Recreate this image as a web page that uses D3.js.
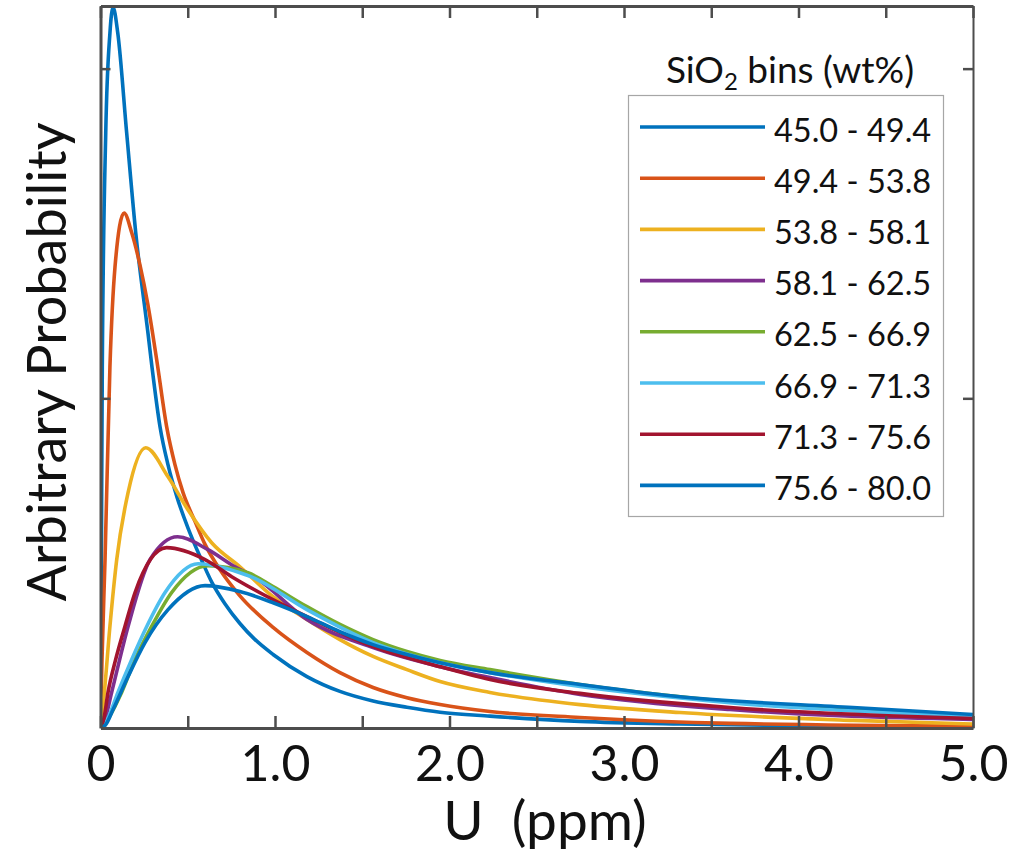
<!DOCTYPE html>
<html>
<head>
<meta charset="utf-8">
<script src="https://cdn.jsdelivr.net/npm/d3@7"></script>
<style>
  body { margin: 0; background: #fff; }
  text { font-family: Lato, "Open Sans", sans-serif; fill: #111; }
</style>
</head>
<body>
<svg id="viz" width="1036" height="855"></svg>
<script>
const svg = d3.select("#viz");
const width = +svg.attr("width");
const height = +svg.attr("height");
const margin = { top: 6, right: 63, bottom: 127, left: 100.5 };

// SiO2 bins and MATLAB default line colours
const bins = ["45.0 - 49.4", "49.4 - 53.8", "53.8 - 58.1", "58.1 - 62.5",
              "62.5 - 66.9", "66.9 - 71.3", "71.3 - 75.6", "75.6 - 80.0"];
const colors = ["#0072BD", "#D95319", "#EDB120", "#7E2F8E",
                "#77AC30", "#4DBEEE", "#A2142F", "#0072BD"];

// curves: [U ppm, arbitrary probability]
const s45 = [[0,0],[0.005,0.5],[0.0103,1.095],[0.030,1.805],[0.054,2.108],[0.072,2.186],[0.099,2.108],
  [0.150,1.805],[0.202,1.502],[0.272,1.198],[0.295,1.095],[0.341,0.914],[0.387,0.798],[0.438,0.701],
  [0.501,0.607],[0.570,0.520],[0.639,0.441],[0.713,0.377],[0.799,0.317],[0.880,0.271],[0.989,0.223],
  [1.183,0.156],[1.372,0.111],[1.562,0.082],[1.756,0.063],[1.946,0.048],[2.232,0.036],[2.748,0.020],
  [3.321,0.012],[4.0,0.007],[5.0,0.004]];
const s49 = [[0,0],[0.0086,0.208],[0.026,0.511],[0.054,1.095],[0.083,1.398],[0.135,1.562],[0.179,1.502],
  [0.226,1.405],[0.272,1.283],[0.322,1.117],[0.379,0.914],[0.427,0.798],[0.473,0.714],[0.542,0.626],
  [0.599,0.557],[0.685,0.480],[0.799,0.401],[0.989,0.305],[1.183,0.229],[1.372,0.168],[1.562,0.123],
  [1.756,0.092],[1.946,0.071],[2.232,0.050],[2.748,0.032],[3.607,0.014],[5.0,0.006]];
const s54 = [[0,0],[0.022,0.108],[0.054,0.308],[0.093,0.511],[0.158,0.714],[0.259,0.850],[0.387,0.762],
  [0.501,0.662],[0.637,0.562],[0.799,0.489],[0.989,0.398],[1.183,0.329],[1.372,0.268],[1.562,0.217],
  [1.756,0.177],[1.946,0.141],[2.232,0.108],[2.748,0.071],[3.321,0.047],[4.312,0.023],[5.0,0.012]];
const s58 = [[0,0],[0.025,0.025],[0.064,0.108],[0.158,0.308],[0.284,0.511],[0.442,0.580],[0.616,0.541],
  [0.771,0.489],[0.880,0.459],[1.183,0.329],[1.562,0.244],[1.946,0.186],[2.232,0.153],[2.748,0.102],
  [3.607,0.056],[5.0,0.026]];
const s62 = [[0,0],[0.02,0.005],[0.043,0.026],[0.121,0.108],[0.198,0.208],[0.293,0.308],[0.408,0.411],
  [0.616,0.492],[0.845,0.471],[0.989,0.429],[1.183,0.368],[1.372,0.314],[1.562,0.268],[1.756,0.232],
  [1.946,0.205],[2.232,0.177],[2.748,0.132],[3.607,0.080],[5.0,0.038]];
const s67 = [[0,0],[0.02,0.006],[0.043,0.03],[0.100,0.108],[0.179,0.208],[0.265,0.308],[0.370,0.411],
  [0.559,0.498],[0.799,0.471],[0.862,0.459],[1.183,0.359],[1.562,0.259],[1.946,0.198],[2.232,0.168],
  [2.748,0.126],[3.607,0.077],[5.0,0.035]];
const s71 = [[0,0],[0.02,0.03],[0.043,0.108],[0.087,0.208],[0.140,0.308],[0.198,0.411],[0.379,0.547],
  [0.599,0.511],[0.752,0.459],[0.880,0.420],[1.183,0.338],[1.562,0.247],[1.946,0.186],[2.232,0.147],
  [2.748,0.105],[3.607,0.062],[5.0,0.029]];
const s76 = [[0,0],[0.03,0.01],[0.072,0.056],[0.158,0.156],[0.255,0.259],[0.387,0.359],[0.599,0.432],
  [0.799,0.414],[0.989,0.380],[1.183,0.338],[1.372,0.292],[1.562,0.253],[1.756,0.223],[1.946,0.198],
  [2.232,0.168],[2.748,0.132],[3.321,0.095],[4.312,0.062],[5.0,0.041]];
const series = [s45, s49, s54, s58, s62, s67, s71, s76];

const xTicks = [0, 0.5, 1, 1.5, 2, 2.5, 3, 3.5, 4, 4.5, 5];
const xTickLabels = { 0: "0", 1: "1.0", 2: "2.0", 3: "3.0", 4: "4.0", 5: "5.0" };
const yTicks = [1, 2];

const x = d3.scaleLinear().domain([0, 5]).range([margin.left, width - margin.right]);
const y = d3.scaleLinear().domain([0, 2.19]).range([height - margin.bottom, margin.top]);

const x0 = x.range()[0], x1 = x.range()[1];
const y0 = y.range()[0], y1 = y.range()[1];

svg.append("defs").append("clipPath").attr("id", "plot")
  .append("rect").attr("x", x0).attr("y", y1 - 2).attr("width", x1 - x0 + 4).attr("height", y0 - y1 + 2);

// curves
const line = d3.line().x(d => x(d[0])).y(d => y(d[1])).curve(d3.curveMonotoneX);
const curves = svg.append("g").attr("clip-path", "url(#plot)");
series.forEach((s, i) => {
  curves.append("path")
    .datum(s)
    .attr("fill", "none")
    .attr("stroke", colors[i])
    .attr("stroke-width", 3.6)
    .attr("stroke-linejoin", "round")
    .attr("d", line);
});

// axes (ticks pointing inward, box on)
const axisColor = "#4d4d4d";
function styleAxis(g) {
  g.select(".domain").attr("stroke", axisColor).attr("stroke-width", 3);
  g.selectAll(".tick line").attr("stroke", axisColor).attr("stroke-width", 2.5);
}

svg.append("g")
  .attr("transform", `translate(0,${y0})`)
  .call(d3.axisBottom(x).tickValues(xTicks).tickSizeInner(-12).tickSizeOuter(0).tickPadding(17)
    .tickFormat(d => xTickLabels[d] || ""))
  .call(styleAxis)
  .call(g => g.selectAll(".tick text").attr("font-size", 50).attr("fill", "#111")
    .attr("font-family", "Lato, sans-serif"));

svg.append("g")
  .attr("transform", `translate(0,${y1})`)
  .call(d3.axisTop(x).tickValues(xTicks).tickSizeInner(-12).tickSizeOuter(0).tickFormat(""))
  .call(styleAxis);

svg.append("g")
  .attr("transform", `translate(${x0},0)`)
  .call(d3.axisLeft(y).tickValues(yTicks).tickSizeInner(-10).tickSizeOuter(0).tickFormat(""))
  .call(styleAxis);

svg.append("g")
  .attr("transform", `translate(${x1},0)`)
  .call(d3.axisRight(y).tickValues(yTicks).tickSizeInner(-10).tickSizeOuter(0).tickFormat(""))
  .call(styleAxis)
  .call(g => g.select(".domain").attr("stroke-width", 2));

// axis titles
svg.append("text")
  .attr("x", 545)
  .attr("y", 840)
  .attr("text-anchor", "middle")
  .attr("font-size", 55)
  .style("white-space", "pre")
  .text("U  (ppm)");

svg.append("text")
  .attr("transform", `translate(66,362) rotate(-90)`)
  .attr("text-anchor", "middle")
  .attr("font-size", 54)
  .text("Arbitrary Probability");

// legend
const legend = svg.append("g");
legend.append("rect")
  .attr("x", 628.5).attr("y", 95.5)
  .attr("width", 315).attr("height", 421)
  .attr("fill", "#fff")
  .attr("stroke", "#a6a6a6")
  .attr("stroke-width", 1.2);

const title = legend.append("text")
  .attr("x", 790).attr("y", 83)
  .attr("text-anchor", "middle")
  .attr("font-size", 37);
title.append("tspan").text("SiO");
title.append("tspan").attr("font-size", 24).attr("dy", 7).text("2");
title.append("tspan").attr("dy", -7).text(" bins (wt%)");

bins.forEach((b, i) => {
  const ly = 127 + i * 51.2;
  legend.append("line")
    .attr("x1", 640).attr("x2", 765)
    .attr("y1", ly).attr("y2", ly)
    .attr("stroke", colors[i])
    .attr("stroke-width", 3.6);
  legend.append("text")
    .attr("x", 774).attr("y", ly + 14.5)
    .attr("font-size", 32.5)
    .text(b);
});
</script>
</body>
</html>
